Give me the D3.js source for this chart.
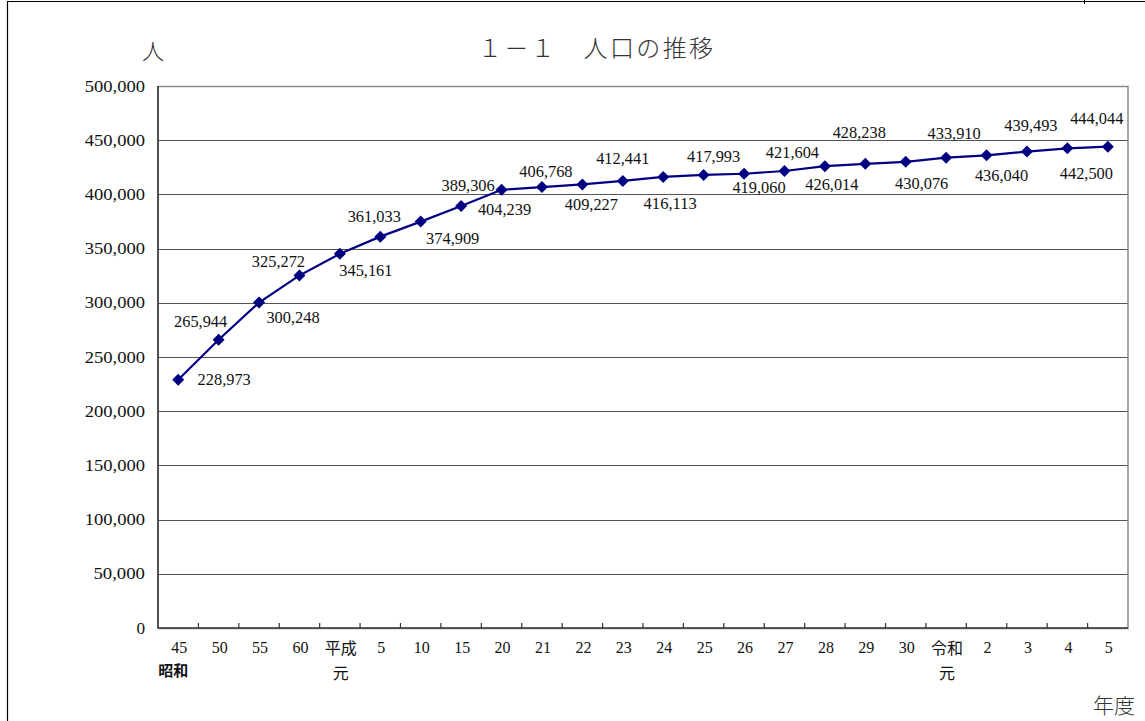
<!DOCTYPE html>
<meta charset="utf-8">
<style>
body { margin: 0; background: #ffffff; }
svg { display: block; }
.num { font-family: "Liberation Serif", serif; fill: #111; }
.jp { font-family: "Noto Sans CJK JP", sans-serif; }
</style>
<body>
<svg id="chart"></svg>
<script src="https://cdn.jsdelivr.net/npm/d3@7/dist/d3.min.js"></script>
<script>
// data
var years = ["昭和45","昭和50","昭和55","昭和60","平成元","平成5","平成10","平成15","平成20","平成21",
             "平成22","平成23","平成24","平成25","平成26","平成27","平成28","平成29","平成30",
             "令和元","令和2","令和3","令和4","令和5"];
var population = [228973,265944,300248,325272,345161,361033,374909,389306,404239,406768,
                  409227,412441,416113,417993,419060,421604,426014,428238,430076,
                  433910,436040,439493,442500,444044];
var tickTop = ["45","50","55","60","平成","5","10","15","20","21","22","23","24","25","26","27",
               "28","29","30","令和","2","3","4","5"];
var tickBottom = ["昭和","","","","元","","","","","","","","","","","","","","","元","","","",""];
var yTicks = d3.range(0, 500001, 50000);

var titleText = "１－１　人口の推移";

// layout
var W = 1145, H = 721;
var plot = {left: 158, top: 86, right: 1128, bottom: 628};
// where each value label sits relative to its marker (Excel labels were dragged by hand)
var labelNudge = [[46,0],[-18,-18],[34,15],[-21,-14],[26,17],[-6,-20],[32,17],[7,-20],
                  [3,20],[4,-16],[9,20],[0,-22],[7,27],[10,-18],[15,14],[8,-18],
                  [7,18],[-6,-31],[16,22],[8,-24],[15,20],[4,-26],[19,25],[-11,-28]];

var svg = d3.select("#chart").attr("width", W).attr("height", H);

// page frame
svg.append("line").attr("x1", 7).attr("x2", W).attr("y1", 1.5).attr("y2", 1.5)
   .attr("stroke", "#000").attr("stroke-width", 1.2);
svg.append("line").attr("x1", 7.5).attr("x2", 7.5).attr("y1", 1).attr("y2", H)
   .attr("stroke", "#000").attr("stroke-width", 1.2);
svg.append("line").attr("x1", 1084.5).attr("x2", 1084.5).attr("y1", 0).attr("y2", 4)
   .attr("stroke", "#000").attr("stroke-width", 1);

var x = d3.scaleBand().domain(years).range([plot.left, plot.right]);
var y = d3.scaleLinear().domain([0, 500000]).range([plot.bottom, plot.top]);
var fmt = d3.format(",");

// gridlines
svg.append("g").selectAll("line")
   .data(yTicks.filter(function(d) { return d > 0 && d < 500000; }))
   .enter().append("line")
   .attr("x1", plot.left).attr("x2", plot.right)
   .attr("y1", function(d) { return Math.round(y(d)) + 0.5; })
   .attr("y2", function(d) { return Math.round(y(d)) + 0.5; })
   .attr("stroke", "#555").attr("stroke-width", 1.2);

// plot border
svg.append("rect").attr("x", plot.left).attr("y", plot.top + 0.5)
   .attr("width", plot.right - plot.left).attr("height", plot.bottom - plot.top)
   .attr("fill", "none").attr("stroke", "#8a8a8a").attr("stroke-width", 1.5);

// axes lines
svg.append("line").attr("x1", plot.left).attr("x2", plot.left)
   .attr("y1", plot.top).attr("y2", plot.bottom).attr("stroke", "#333").attr("stroke-width", 1.5);
svg.append("line").attr("x1", plot.left).attr("x2", plot.right)
   .attr("y1", plot.bottom).attr("y2", plot.bottom).attr("stroke", "#333").attr("stroke-width", 1.5);

// x tick marks (inside, at band edges)
svg.append("g").selectAll("line")
   .data(years.slice(1))
   .enter().append("line")
   .attr("x1", function(d) { return x(d); }).attr("x2", function(d) { return x(d); })
   .attr("y1", plot.bottom).attr("y2", plot.bottom - 5)
   .attr("stroke", "#333").attr("stroke-width", 1.2);

// y tick labels
svg.append("g").selectAll("text")
   .data(yTicks)
   .enter().append("text")
   .attr("class", "num")
   .attr("x", 145).attr("y", function(d) { return y(d); })
   .attr("text-anchor", "end").attr("dominant-baseline", "central")
   .attr("font-size", 17)
   .attr("textLength", function(d) { return fmt(d).length * 8.6; })
   .attr("lengthAdjust", "spacingAndGlyphs")
   .text(function(d) { return fmt(d); });

// x tick labels, two lines
var xl = svg.append("g").selectAll("g")
   .data(years)
   .enter().append("g");
xl.append("text")
   .attr("class", function(d, i) { return /^\d+$/.test(tickTop[i]) ? "num" : "jp"; })
   .attr("x", function(d) { return x(d) + x.bandwidth() / 2 + 1; })
   .attr("y", 647)
   .attr("text-anchor", "middle").attr("dominant-baseline", "central")
   .attr("font-size", function(d, i) { return /^\d+$/.test(tickTop[i]) ? 17 : 16; })
   .attr("textLength", function(d, i) { return /^\d+$/.test(tickTop[i]) ? tickTop[i].length * 8 : null; })
   .attr("lengthAdjust", "spacingAndGlyphs")
   .attr("fill", "#111")
   .text(function(d, i) { return tickTop[i]; });
xl.append("text")
   .attr("class", "jp")
   .attr("x", function(d, i) { return x(d) + x.bandwidth() / 2 + (tickBottom[i] == "昭和" ? -5 : 1); })
   .attr("y", function(d, i) { return tickBottom[i] == "昭和" ? 669 : 672; })
   .attr("text-anchor", "middle").attr("dominant-baseline", "central")
   .attr("font-size", function(d, i) { return tickBottom[i] == "昭和" ? 15 : 16; })
   .attr("fill", "#111")
   .attr("font-weight", function(d, i) { return tickBottom[i] == "昭和" ? 700 : 400; })
   .text(function(d, i) { return tickBottom[i]; });

// line
var line = d3.line()
   .x(function(d, i) { return x(years[i]) + x.bandwidth() / 2; })
   .y(function(d) { return y(d); });
svg.append("path").datum(population)
   .attr("d", line)
   .attr("fill", "none").attr("stroke", "#000080").attr("stroke-width", 2.2);

// markers
svg.append("g").selectAll("path")
   .data(population)
   .enter().append("path")
   .attr("d", d3.symbol().type(d3.symbolSquare).size(72))
   .attr("transform", function(d, i) {
       return "translate(" + (x(years[i]) + x.bandwidth() / 2) + "," + y(d) + ") rotate(45)";
   })
   .attr("fill", "#000080");

// value labels
svg.append("g").selectAll("text")
   .data(population)
   .enter().append("text")
   .attr("class", "num")
   .attr("x", function(d, i) { return x(years[i]) + x.bandwidth() / 2 + labelNudge[i][0]; })
   .attr("y", function(d, i) { return y(d) + labelNudge[i][1]; })
   .attr("text-anchor", "middle").attr("dominant-baseline", "central")
   .attr("font-size", 16)
   .attr("textLength", function(d) { return fmt(d).length * 7.6; })
   .attr("lengthAdjust", "spacingAndGlyphs")
   .text(function(d) { return fmt(d); });

// title and unit labels
svg.append("text").attr("class", "jp")
   .attr("x", 478).attr("y", 46).attr("dominant-baseline", "central")
   .attr("font-size", 24).attr("font-weight", 300).attr("fill", "#333")
   .attr("textLength", 235).attr("lengthAdjust", "spacing")
   .text(titleText);
svg.append("text").attr("class", "jp")
   .attr("x", 153).attr("y", 49).attr("text-anchor", "middle").attr("dominant-baseline", "central")
   .attr("font-size", 22).attr("font-weight", 300).attr("fill", "#333")
   .text("人");
svg.append("text").attr("class", "jp")
   .attr("x", 1114).attr("y", 704).attr("text-anchor", "middle").attr("dominant-baseline", "central")
   .attr("font-size", 21).attr("font-weight", 300).attr("fill", "#333")
   .text("年度");
</script>
</body>
